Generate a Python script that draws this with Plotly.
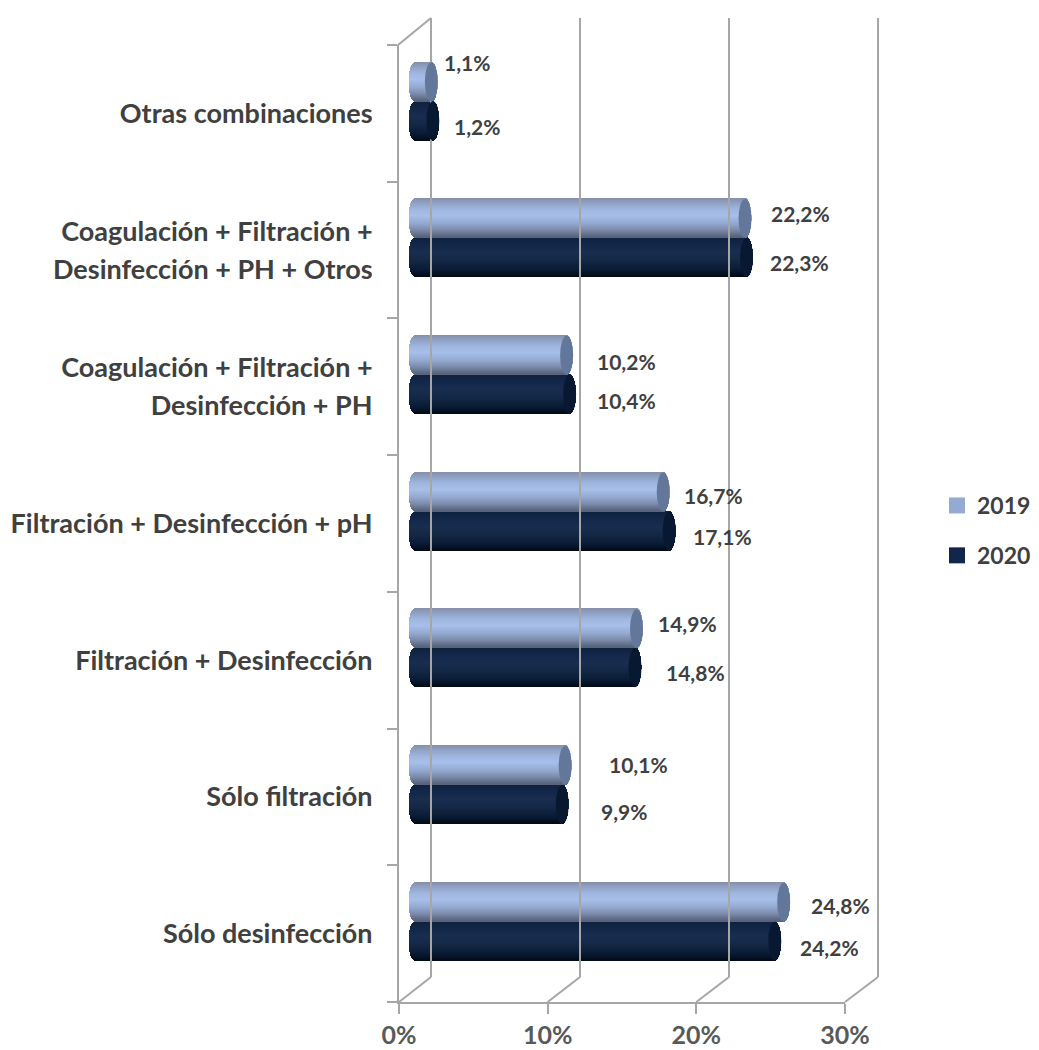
import math
import plotly.graph_objects as go

CATEGORIES = ["Otras combinaciones", "Coagulación + Filtración +\nDesinfección + PH + Otros",
              "Coagulación + Filtración +\nDesinfección + PH", "Filtración + Desinfección + pH",
              "Filtración + Desinfección", "Sólo filtración", "Sólo desinfección"]
V2019 = [1.1, 22.2, 10.2, 16.7, 14.9, 10.1, 24.8]
V2020 = [1.2, 22.3, 10.4, 17.1, 14.8, 9.9, 24.2]
X_TICKS = [0, 10, 20, 30]

# label nudges (px) as placed by hand in the source chart
DX_2019 = [36, 55, 60, 50, 51, 73, 57]
DY_2019 = [-19, -5, 6, 3, -5, -1, 3]
DX_2020 = [44, 53, 57, 53, 60, 62, 55]
DY_2020 = [6, 5, 6, 5, 5, 7, 6]

OFF = 8
W, H = 1039 - OFF, 1050 - OFF
FONT = "Lato"
GRID = "#a6a6a6"

def fx(px): return (px - OFF) / W
def fy(py): return 1 - (py - OFF) / H

FRONT_L, FRONT_R, FRONT_B, FRONT_T = 399, 845, 1002, 45
BACK_L, BACK_R, BACK_B, BACK_T = 431, 878, 977, 18
PX_PER_UNIT = (FRONT_R - FRONT_L) / 30
BACK_PAD = 0.5
ROW_PX = (FRONT_B - FRONT_T) / 7
BASE = (415 - FRONT_L) / PX_PER_UNIT
CAP_A = 6.5 / PX_PER_UNIT
RAISE = 12 / ROW_PX
BAR_H = 39.0 / ROW_PX
N_BANDS = 39

STOPS_2019 = [(0, "#868fa3"), (0.12, "#8ea0c4"), (0.3, "#a0b7e0"), (0.45, "#a6bfe9"), (0.65, "#94a9d0"),
              (0.82, "#7a8aa9"), (1, "#566079")]
STOPS_2020 = [(0, "#0e2140"), (0.4, "#182d50"), (0.6, "#142845"), (0.85, "#091a33"), (1, "#020a18")]
CAP_2019, CAP_2020 = "#62779a", "#091831"
SWATCH_2019, SWATCH_2020 = "#95aad3", "#11264a"

def shade(stops, t):
    for (a, ca), (b, cb) in zip(stops, stops[1:]):
        if a <= t <= b:
            k = (t - a) / (b - a)
            c = [round(int(ca[i:i+2], 16) * (1 - k) + int(cb[i:i+2], 16) * k) for i in (1, 3, 5)]
            return "rgb(%d,%d,%d)" % tuple(c)
    return stops[-1][1]

fig = go.Figure()

def add_cylinders(values, centre_shift, stops, cap, name):
    for j in range(N_BANDS):
        t = (j + 0.5) / N_BANDS
        s = math.sqrt(max(0, 1 - (2 * t - 1) ** 2))
        ys = [i - RAISE + centre_shift + (t - 0.5) * BAR_H for i in range(len(values))]
        fig.add_trace(go.Bar(orientation="h", y=ys, x=[v + 2 * CAP_A * s for v in values],
                             base=[BASE - CAP_A * s] * len(values),
                             width=BAR_H / N_BANDS * 1.5, marker=dict(color=shade(stops, t), line_width=0),
                             xaxis="x", yaxis="y", showlegend=False, hoverinfo="skip", name=name))
    for i, v in enumerate(values):
        c = BASE + v
        yc = i - RAISE + centre_shift
        fig.add_shape(type="circle", xref="x", yref="y", x0=c - CAP_A, x1=c + CAP_A,
                      y0=yc - BAR_H / 2, y1=yc + BAR_H / 2, fillcolor=cap, line_width=0, layer="above")

# later draws on top: 2020 first so the 2019 cylinder overlaps it
add_cylinders(V2020, BAR_H / 2, STOPS_2020, CAP_2020, "2020")
add_cylinders(V2019, -BAR_H / 2, STOPS_2019, CAP_2019, "2019")

for name, col in (("2019", SWATCH_2019), ("2020", SWATCH_2020)):
    fig.add_trace(go.Scatter(x=[None], y=[None], mode="markers", name=name, legendgroup=name,
                             marker=dict(symbol="square", size=16, color=col), xaxis="x", yaxis="y"))

# data labels
def fmt(v): return f"{v:.1f}%".replace(".", ",")
for values, dxs, dys, shift in ((V2019, DX_2019, DY_2019, -BAR_H / 2), (V2020, DX_2020, DY_2020, BAR_H / 2)):
    for i, v in enumerate(values):
        fig.add_annotation(x=BASE + v, y=i - RAISE + shift, xref="x", yref="y", text=fmt(v), showarrow=False,
                           xshift=dxs[i], yshift=-dys[i], font=dict(family=FONT, size=21, color="#404040", weight="bold"))

# category labels: each text line is its own tick so the line spacing follows the source
tickvals, ticktext = [], []
LINE_GAP = 38 / ROW_PX
for i, cat in enumerate(CATEGORIES):
    lines = cat.split("\n")
    for k, ln in enumerate(lines):
        tickvals.append(i + (k - (len(lines) - 1) / 2) * LINE_GAP)
        ticktext.append(ln)

fig.update_layout(
    width=W, height=H, margin=dict(l=0, r=0, t=0, b=0, autoexpand=False), paper_bgcolor="white",
    plot_bgcolor="rgba(0,0,0,0)",
    barmode="overlay", bargap=0, showlegend=True,
    font=dict(family=FONT),
    legend=dict(x=fx(937), y=fy(484), xanchor="left", yanchor="top", tracegroupgap=17, itemclick=False,
                font=dict(family=FONT, size=23, color="#404040", weight="bold"), bgcolor="rgba(0,0,0,0)"),
    xaxis=dict(domain=[fx(FRONT_L), fx(FRONT_R)], range=[0, 30], anchor="y", showgrid=False, zeroline=False,
               tickvals=X_TICKS, ticktext=[f"{t}%" for t in X_TICKS], ticks="outside", ticklen=10, tickwidth=2,
               tickcolor=GRID, showline=True, linecolor=GRID, linewidth=2,
               tickfont=dict(family=FONT, size=25, color="#595959", weight="bold")),
    yaxis=dict(domain=[fy(FRONT_B), fy(FRONT_T)], range=[6.5, -0.5], anchor="x", showgrid=False, zeroline=False,
               tickvals=tickvals, ticktext=ticktext, ticks="", ticklabelstandoff=19,
               showline=True, linecolor=GRID, linewidth=2,
               tickfont=dict(family=FONT, size=27, color="#404040", weight="bold"),
               minor=dict(tickvals=[b - 0.5 for b in range(8)], ticks="outside", ticklen=10, tickwidth=2,
                          tickcolor=GRID, showgrid=False)),
    xaxis2=dict(domain=[fx(BACK_L - BACK_PAD * PX_PER_UNIT), fx(BACK_R + BACK_PAD * PX_PER_UNIT)],
                range=[-BACK_PAD, 30 + BACK_PAD], anchor="y2", showticklabels=False, ticks="",
                tickvals=X_TICKS, showgrid=True, gridcolor=GRID, gridwidth=2, zeroline=False, showline=False),
    yaxis2=dict(domain=[fy(BACK_B), fy(BACK_T)], range=[0, 1], anchor="x2", showticklabels=False, ticks="",
                showgrid=False, zeroline=False, showline=False),
)
# invisible trace so the back-wall axes are drawn
fig.add_trace(go.Scatter(x=[None], y=[None], xaxis="x2", yaxis="y2", showlegend=False, hoverinfo="skip"))

# depth edges joining the front floor/wall to the back wall
for t in X_TICKS:
    fig.add_shape(type="line", xref="paper", yref="paper", layer="below",
                  x0=fx(FRONT_L + t * PX_PER_UNIT), y0=fy(FRONT_B),
                  x1=fx(BACK_L + t * (BACK_R - BACK_L) / 30), y1=fy(BACK_B), line=dict(color=GRID, width=2))
fig.add_shape(type="line", xref="paper", yref="paper", layer="below", x0=fx(FRONT_L - 1), y0=fy(FRONT_T),
              x1=fx(BACK_L), y1=fy(BACK_T), line=dict(color=GRID, width=2))

fig.write_html("out.html")
